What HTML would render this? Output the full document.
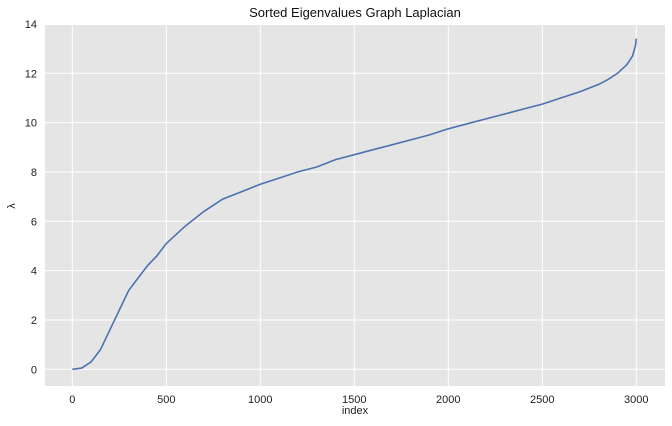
<!DOCTYPE html>
<html><head><meta charset="utf-8"><style>
body{margin:0;background:#fff;}
svg{display:block;font-family:"Liberation Sans",sans-serif;}
</style></head><body>
<svg id="chart" width="672" height="426" xmlns="http://www.w3.org/2000/svg">
<text x="355" y="17" text-anchor="middle" font-size="13" fill="#111">Sorted Eigenvalues Graph Laplacian</text>
<rect x="45" y="25" width="620" height="361" fill="#e5e5e5"/>
<g id="grid"></g>
<g id="ticks"></g>
<path id="line" fill="none" stroke="#4c72b0" stroke-width="1.6"/>
<text x="355" y="414" text-anchor="middle" font-size="11" fill="#222">index</text>
<text x="15" y="206" text-anchor="middle" font-size="11" fill="#222" transform="rotate(-90 15 206)">λ</text>
</svg>
<script>
const indices=[0,50,100,150,200,250,300,350,400,450,500,600,700,800,900,1000,1100,1200,1300,1400,1500,1600,1700,1800,1900,2000,2100,2200,2300,2400,2500,2600,2700,2800,2850,2900,2950,2980,2995,3000];
const eigenvalues=[0,0.05,0.3,0.8,1.6,2.4,3.2,3.7,4.2,4.6,5.1,5.8,6.4,6.9,7.2,7.5,7.75,8.0,8.2,8.5,8.7,8.9,9.1,9.3,9.5,9.75,9.95,10.15,10.35,10.55,10.75,11.0,11.25,11.55,11.75,12.0,12.35,12.7,13.1,13.4];
const xTicks=[0,500,1000,1500,2000,2500,3000];
const yTicks=[0,2,4,6,8,10,12,14];
const X=v=>72.3+v*(94/500);
const Y=v=>369.3-v*24.67;
const ns="http://www.w3.org/2000/svg";
const grid=document.getElementById('grid'),ticks=document.getElementById('ticks');
xTicks.forEach(t=>{
 const l=document.createElementNS(ns,'line');
 
 
 l.setAttribute('x1',X(t));l.setAttribute('x2',X(t));l.setAttribute('y1',25);l.setAttribute('y2',386);
 l.setAttribute('stroke','#fff');l.setAttribute('stroke-width','1');grid.appendChild(l);
 const tx=document.createElementNS(ns,'text');
 
 
 tx.setAttribute('x',X(t));tx.setAttribute('y',403);tx.setAttribute('text-anchor','middle');
 tx.setAttribute('font-size','11');tx.setAttribute('fill','#222');tx.textContent=t;ticks.appendChild(tx);
});
yTicks.forEach(t=>{
 const l=document.createElementNS(ns,'line');
 
 
 l.setAttribute('x1',45);l.setAttribute('x2',665);l.setAttribute('y1',Y(t));l.setAttribute('y2',Y(t));
 l.setAttribute('stroke','#fff');l.setAttribute('stroke-width','1');grid.appendChild(l);
 const tx=document.createElementNS(ns,'text');
 
 
 tx.setAttribute('x',37);tx.setAttribute('y',Y(t)+4);tx.setAttribute('text-anchor','end');
 tx.setAttribute('font-size','11');tx.setAttribute('fill','#222');tx.textContent=t;ticks.appendChild(tx);
});
document.getElementById('line').setAttribute('d',indices.map((v,i)=>(i?'L':'M')+X(v).toFixed(1)+' '+Y(eigenvalues[i]).toFixed(1)).join(' '));
</script>
</body></html>
